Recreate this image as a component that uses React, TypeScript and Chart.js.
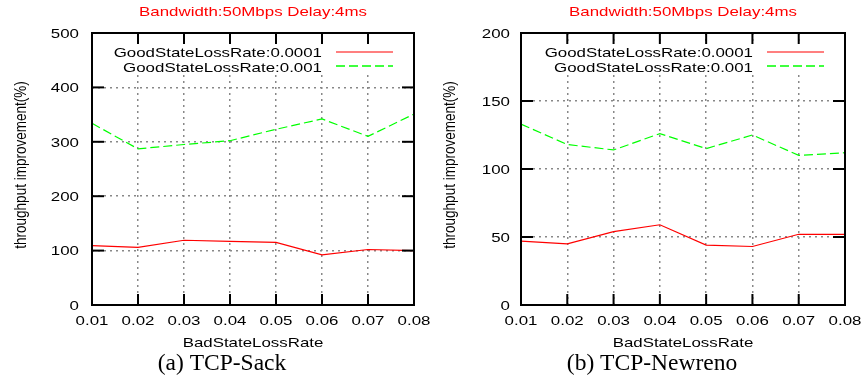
import React, { useEffect, useRef } from 'react';
import { Chart, registerables } from 'chart.js';

Chart.register(...registerables);

const xLabels = ['0.01', '0.02', '0.03', '0.04', '0.05', '0.06', '0.07', '0.08'];
const seriesNames = ['GoodStateLossRate:0.0001', 'GoodStateLossRate:0.001'];
const sackLow = [109, 106, 119, 117, 115, 92, 102, 100];
const sackHigh = [334, 287, 295, 302, 323, 342, 310, 351];
const newrenoLow = [47, 45, 54, 59, 44, 43, 52, 52];
const newrenoHigh = [133, 118, 114, 126, 115, 125, 110, 112];
const sackYMax = 500;
const sackYStep = 100;
const newrenoYMax = 200;
const newrenoYStep = 50;
const titleText = 'Bandwidth:50Mbps Delay:4ms';
const xTitle = 'BadStateLossRate';
const yTitle = 'throughput improvement(%)';
const captions = ['(a) TCP-Sack', '(b) TCP-Newreno'];

const RED = '#ff0000';
const GREEN = '#00ff00';
const SX = 1.25;
const FONT = '13.5px "Liberation Sans", Arial, sans-serif';
const SERIF = '23.5px "Liberation Serif", "Times New Roman", serif';

function sText(ctx: CanvasRenderingContext2D, text: string, x: number, y: number, align: CanvasTextAlign, color = '#000') {
  ctx.save();
  ctx.translate(x, y);
  ctx.scale(SX, 1);
  ctx.font = FONT;
  ctx.fillStyle = color;
  ctx.textAlign = align;
  ctx.textBaseline = 'alphabetic';
  ctx.fillText(text, 0, 0);
  ctx.restore();
}

function line(ctx: CanvasRenderingContext2D, x1: number, y1: number, x2: number, y2: number) {
  ctx.beginPath();
  ctx.moveTo(x1, y1);
  ctx.lineTo(x2, y2);
  ctx.stroke();
}

type PanelProps = {
  low: number[];
  high: number[];
  yMax: number;
  yStep: number;
  caption: string;
  pad: { left: number; right: number; top: number; bottom: number };
  tickGap: number;
};

function Panel({ low, high, yMax, yStep, caption, pad, tickGap }: PanelProps) {
  const ref = useRef<HTMLCanvasElement | null>(null);
  useEffect(() => {
    const canvas = ref.current;
    if (!canvas) return;
    const gnuplotPlugin = {
      id: 'gnuplotStyle',
      beforeDatasetsDraw(chart: any) {
        const ctx = chart.ctx as CanvasRenderingContext2D;
        const { left, right, top } = chart.chartArea;
        ctx.save();
        ctx.fillStyle = '#ffffff';
        ctx.fillRect(left + 10, top + 10, right - left - 15, 32);
        ctx.restore();
      },
      afterDraw(chart: any) {
        const ctx = chart.ctx as CanvasRenderingContext2D;
        const { left, right, top, bottom } = chart.chartArea;
        const xs = chart.scales.x;
        const ys = chart.scales.y;
        ctx.save();
        ctx.strokeStyle = '#000';
        ctx.lineWidth = 2;
        ctx.setLineDash([]);
        ctx.strokeRect(left, top, right - left, bottom - top);
        xs.ticks.forEach((t: any, i: number) => {
          const px = xs.getPixelForTick(i);
          line(ctx, px, bottom, px, bottom - 11);
          line(ctx, px, top, px, top + 11);
          sText(ctx, xLabels[i], px, bottom + 20, 'center');
        });
        ys.ticks.forEach((t: any) => {
          const py = ys.getPixelForValue(t.value);
          line(ctx, left, py, left + 12, py);
          line(ctx, right, py, right - 12, py);
          sText(ctx, String(t.value), left - tickGap, py + 4.8, 'right');
        });
        const cx = (left + right) / 2;
        sText(ctx, titleText, cx, 16, 'center', RED);
        sText(ctx, xTitle, cx, bottom + 42, 'center');
        // y title
        ctx.save();
        ctx.translate(left - 71, (top + bottom) / 2 - 4);
        ctx.rotate(-Math.PI / 2);
        ctx.scale(1, SX);
        ctx.font = FONT;
        ctx.fillStyle = '#000';
        ctx.textAlign = 'center';
        ctx.textBaseline = 'middle';
        ctx.fillText(yTitle, 0, 0);
        ctx.restore();
        // legend
        const textEnd = right - 92;
        sText(ctx, seriesNames[0], textEnd, top + 24, 'right');
        sText(ctx, seriesNames[1], textEnd, top + 39, 'right');
        ctx.lineWidth = 2;
        ctx.strokeStyle = 'rgba(255,0,0,0.5)';
        line(ctx, right - 78, top + 19, right - 21, top + 19);
        ctx.lineWidth = 1.3;
        ctx.strokeStyle = GREEN;
        ctx.setLineDash([9, 4]);
        line(ctx, right - 78, top + 33, right - 21, top + 33);
        ctx.setLineDash([]);
        // caption
        ctx.font = SERIF;
        ctx.fillStyle = '#000';
        ctx.textAlign = 'center';
        ctx.textBaseline = 'alphabetic';
        ctx.fillText(caption, cx - 31, bottom + 64.5);
        ctx.restore();
      },
    };
    const chart = new Chart(canvas, {
      type: 'line',
      data: {
        labels: xLabels,
        datasets: [
          {
            label: seriesNames[0],
            data: low,
            borderColor: RED,
            borderWidth: 1.2,
            pointRadius: 0,
            tension: 0,
            fill: false,
          },
          {
            label: seriesNames[1],
            data: high,
            borderColor: GREEN,
            borderWidth: 1.2,
            borderDash: [9, 4],
            pointRadius: 0,
            tension: 0,
            fill: false,
          },
        ],
      },
      options: {
        responsive: false,
        animation: false,
        events: [],
        layout: { padding: pad },
        plugins: {
          legend: { display: false },
          title: { display: false },
          tooltip: { enabled: false },
        },
        scales: {
          x: {
            type: 'category',
            offset: false,
            ticks: { display: false },
            grid: { display: true, drawTicks: false, color: '#888', lineWidth: 1.5, offset: false },
            border: { display: false, dash: [2, 4] },
          },
          y: {
            type: 'linear',
            min: 0,
            max: yMax,
            ticks: { display: false, stepSize: yStep },
            grid: { display: true, drawTicks: false, color: '#888', lineWidth: 1.5 },
            border: { display: false, dash: [2, 4] },
          },
        },
      },
      plugins: [gnuplotPlugin],
    } as any);
    return () => chart.destroy();
  }, [low, high, yMax, yStep, caption, pad, tickGap]);
  return <canvas ref={ref} width={433} height={381} style={{ display: 'block', width: 433, height: 381 }} />;
}

const leftPad = { left: 92, right: 19, top: 33, bottom: 76 };
const rightPad = { left: 88, right: 21, top: 33, bottom: 76 };

export default function App() {
  return (
    <div style={{ position: 'fixed', left: 0, top: 0, width: 866, height: 381, background: '#fff', display: 'flex' }}>
      <Panel low={sackLow} high={sackHigh} yMax={sackYMax} yStep={sackYStep} caption={captions[0]} pad={leftPad} tickGap={13} />
      <Panel low={newrenoLow} high={newrenoHigh} yMax={newrenoYMax} yStep={newrenoYStep} caption={captions[1]} pad={rightPad} tickGap={11} />
    </div>
  );
}
